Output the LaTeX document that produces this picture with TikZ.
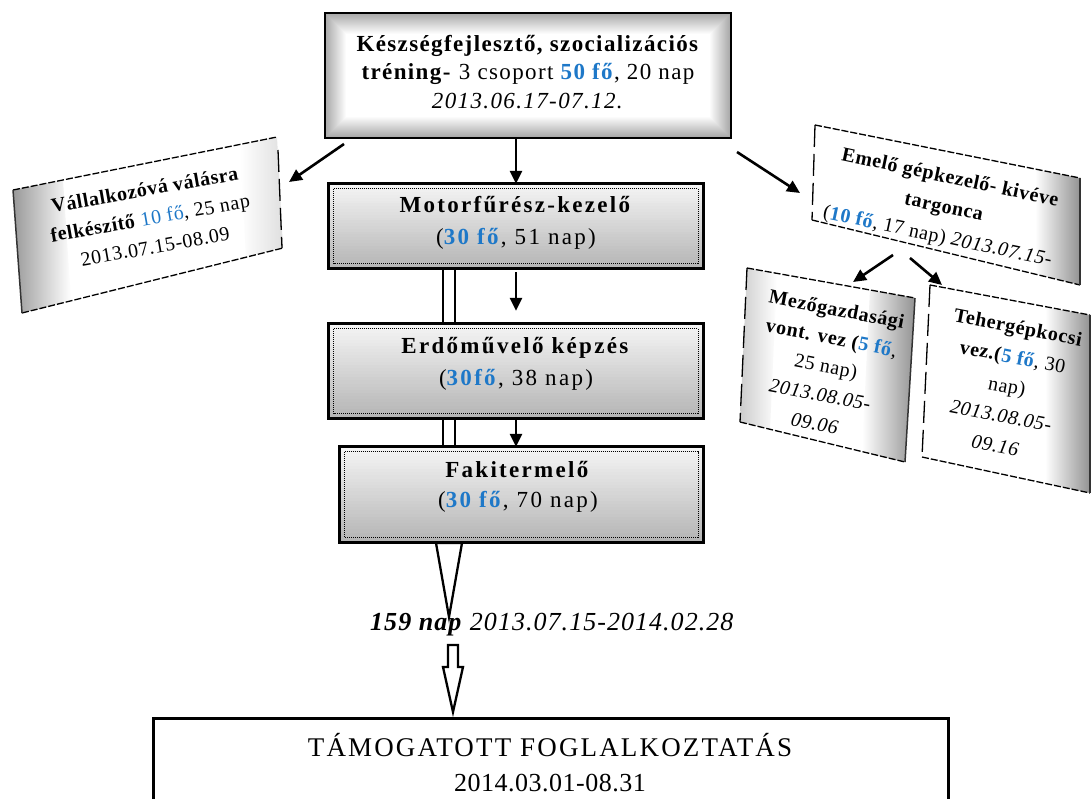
\documentclass[tikz,border=0pt]{standalone}
\usepackage{fontspec}
\setmainfont{Liberation Serif}
\newfontfamily\spA[LetterSpace=6]{Liberation Serif}
\newfontfamily\spB[LetterSpace=10]{Liberation Serif}
\newfontfamily\spC[LetterSpace=3]{Liberation Serif}
\newfontfamily\spD[LetterSpace=8]{Liberation Serif}
\newfontfamily\spE[LetterSpace=4]{Liberation Serif}
\newfontfamily\spF[LetterSpace=2]{Liberation Serif}
\usetikzlibrary{arrows.meta,calc}
\definecolor{hblue}{RGB}{30,120,200}
\newcommand{\bl}[1]{\textcolor{hblue}{\textbf{#1}}}
\newcommand{\blr}[1]{\textcolor{hblue}{#1}}
\newcommand{\fz}[2]{\fontsize{#1}{#2}\selectfont}
% vertical gradient bands inside a named rectangular node, then border and dotted inner frame
\newcommand{\midshade}[1]{%
  \foreach \i in {0,...,29} {%
    \pgfmathsetmacro\c{8+50*\i/29}%
    \fill[gray!\c] ($(#1.north west)!\i/30!(#1.south west)$) rectangle ($(#1.north east)!{(\i+1)/30}!(#1.south east)$);
  }%
  \draw[line width=3pt] (#1.north west) rectangle (#1.south east);
  \draw[densely dotted, line width=1pt] ([shift={(5,5)}]#1.north west) rectangle ([shift={(-5,-5)}]#1.south east);
}
\tikzset{
  conn/.style={line width=2.6pt, -{Triangle[length=13pt,width=12pt]}},
  boxarea/.style={inner sep=0pt},
  txt/.style={align=center, inner sep=0pt},
  dashedge/.style={line width=1.3pt, dash pattern=on 7pt off 2pt},
  sideedge/.style={line width=1.3pt, dash pattern=on 22pt off 7pt},
  darkedge/.style={line width=1.5pt, gray!40!black},
  blockarrow/.style={draw, line width=2.3pt, fill=white, line join=miter}
}
\begin{document}
\begin{tikzpicture}[x=1pt,y=-1pt]
\useasboundingbox (0,0) rectangle (1091,798);
\clip (0,0) rectangle (1091,798);

% top box with rectangular vignette
\node[boxarea, fill=white, minimum width=406, minimum height=125] (top) at (528,75.5) {};
\foreach \k in {0,...,21} {%
  \pgfmathsetmacro\c{72*(1-\k/22)}%
  \draw[gray!\c, line width=1.3pt] ([shift={(\k,\k)}]top.north west) rectangle ([shift={(-\k,-\k)}]top.south east);
}
\draw[line width=2.5pt] (top.north west) rectangle (top.south east);
\node[txt, font=\spA\fz{23}{28.5}] (toptxt) at (528,72)
  {\textbf{Készségfejlesztő, szocializációs}\\\textbf{tréning-} 3 csoport \bl{50 fő}, 20 nap\\\textit{2013.06.17-07.12.}};

% middle boxes
\node[boxarea, minimum width=374, minimum height=84] (mot) at (516,226) {};
\midshade{mot}
\node[txt, font=\spB\fz{23}{32}] (mott) at (516,223) {\textbf{Motorfűrész-kezelő}\\(\bl{30 fő}, 51 nap)};

\node[boxarea, minimum width=374, minimum height=94] (erd) at (516,371) {};
\midshade{erd}
\node[txt, font=\spB\fz{23}{32}] (erdt) at (516,364) {\textbf{Erdőművelő képzés}\\(\bl{30fő}, 38 nap)};

\node[boxarea, minimum width=363, minimum height=95] (fak) at (521.5,494.5) {};
\midshade{fak}
\node[txt, font=\spB\fz{23}{30}] (fakt) at (518,487) {\textbf{Fakitermelő}\\(\bl{30 fő}, 70 nap)};

% connectors in the middle column
\draw[conn] (top.south -| mot.north) -- (mot.north);
\draw[conn, shorten <=4pt, shorten >=13pt] (mot.south) -- (erd.north);
\draw[conn] (erd.south) -- (erd.south |- fak.north);
\draw[line width=2.5pt] ([xshift=-73pt]mot.south) -- ([xshift=-73pt]erd.north);
\draw[line width=2.5pt] ([xshift=-61pt]mot.south) -- ([xshift=-61pt]erd.north);
\draw[line width=2.5pt] ([xshift=-73pt]erd.south) -- ([xshift=-73pt]erd.south |- fak.north);
\draw[line width=2.5pt] ([xshift=-61pt]erd.south) -- ([xshift=-61pt]erd.south |- fak.north);

% left slanted box
\fill[white] (13,190) -- (277,137) -- (283,248) -- (22,313) -- cycle;
\shade[left color=gray!80, right color=white] (13,190) -- (63,180) -- (71,301) -- (22,313) -- cycle;
\shade[left color=white, right color=gray!25] (240,144) -- (277,137) -- (283,248) -- (246,257) -- cycle;
\draw[dashedge] (13,190) -- (277,137);
\draw[dashedge] (22,313) -- (283,248);
\draw[darkedge] (13,190) -- (22,313);
\draw[sideedge] (278,150) -- (282,248);
\node[txt, rotate=10, font=\spC\fz{20}{29}] (lbt) at (150,218)
  {\textbf{Vállalkozóvá válásra}\\\textbf{felkészítő} \blr{10 fő}, 25 nap\\2013.07.15-08.09};

% right slanted box
\fill[white] (815,125) -- (1080,178) -- (1080,285) -- (812,220) -- cycle;
\shade[left color=white, right color=gray!85] (1035,169) -- (1080,178) -- (1080,285) -- (1035,274) -- cycle;
\draw[dashedge] (815,125) -- (1080,178);
\draw[dashedge] (812,220) -- (1080,285);
\draw[darkedge] (1080,178) -- (1080,285);
\draw[sideedge] (815,125) -- (812,220);
\node[txt, rotate=-12, font=\spC\fz{20}{30}] (rbt) at (944,208)
  {\textbf{Emelő gépkezelő- kivéve}\\\textbf{targonca}\\(\bl{10 fő}, 17 nap) \textit{2013.07.15-}};

% lower right boxes
\fill[white] (747,268) -- (915,298) -- (905,462) -- (740,422) -- cycle;
\shade[left color=gray!40, right color=white] (747,268) -- (777,273) -- (770,429) -- (740,422) -- cycle;
\shade[left color=white, right color=gray!85] (870,290) -- (915,298) -- (905,462) -- (862,452) -- cycle;
\draw[dashedge] (747,268) -- (915,298);
\draw[dashedge] (740,422) -- (905,462);
\draw[darkedge] (915,298) -- (905,462);
\draw[sideedge] (747,268) -- (740,422);
\node[txt, rotate=-11, font=\spC\fz{20}{29}] (mzt) at (826,366)
  {\textbf{Mezőgazdasági}\\\textbf{vont. vez (}\bl{5 fő},\\25 nap)\\\textit{2013.08.05-}\\\textit{09.06}};

\fill[white] (930,285) -- (1090,315) -- (1090,493) -- (922,457) -- cycle;
\shade[left color=white, right color=gray!85] (1045,307) -- (1090,315) -- (1090,493) -- (1045,483) -- cycle;
\draw[dashedge] (930,285) -- (1090,315);
\draw[dashedge] (922,457) -- (1090,493);
\draw[darkedge] (1090,315) -- (1090,493);
\draw[sideedge] (930,285) -- (922,457);
\node[txt, rotate=-11, font=\spC\fz{20}{30}] (tgt) at (1007,386)
  {\textbf{Tehergépkocsi}\\\textbf{vez.(}\bl{5 fő}, 30\\nap)\\\textit{2013.08.05-}\\\textit{09.16}};

% diagonal connectors
\coordinate (tlS) at (344,144);
\coordinate (lbE) at (289,182);
\coordinate (trS) at (737,152);
\coordinate (rbE) at (800,193);
\coordinate (rb1) at (893,255);
\coordinate (mzE) at (853,282);
\coordinate (rb2) at (910,258);
\coordinate (tgE) at (942,285);
\draw[conn] (tlS) -- (lbE);
\draw[conn] (trS) -- (rbE);
\draw[conn] (rb1) -- (mzE);
\draw[conn] (rb2) -- (tgE);

% big triangle and block arrow
\draw[blockarrow] (436,543) -- (462,543) -- (449,617) -- cycle;
\node[txt, font=\spE\fz{26}{30}, anchor=west] (lab) at (370,625)
  {\textbf{\textit{159 nap}} \textit{2013.07.15-2014.02.28}};
\draw[blockarrow] (448,645) -- (458,645) -- (458,667) -- (463,667) -- (453,712) -- (443,667) -- (448,667) -- cycle;

% bottom box
\node[draw, line width=3pt, minimum width=795, minimum height=120, inner sep=0pt] (bot) at (550.5,778) {};
\node[txt, font=\spD\fz{27}{30}] (bott) at (550,745) {TÁMOGATOTT FOGLALKOZTATÁS};
\node[txt, font=\spF\fz{26}{30}] (botd) at (550,783) {2014.03.01-08.31};
\end{tikzpicture}
\end{document}
